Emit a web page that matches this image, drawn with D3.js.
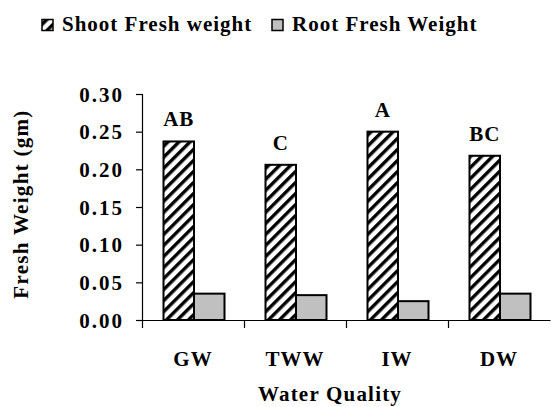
<!DOCTYPE html>
<html>
<head>
<meta charset="utf-8">
<script src="https://cdn.jsdelivr.net/npm/d3@7"></script>
<style>
  body { margin: 0; background: #fff; }
</style>
</head>
<body>
<div id="vis"></div>
<script>

var categories = ['GW', 'TWW', 'IW', 'DW'];
var seriesNames = ['Shoot Fresh weight', 'Root Fresh Weight'];
var shootValues = [0.237, 0.206, 0.250, 0.218];
var rootValues = [0.035, 0.033, 0.025, 0.035];
var letters = ['AB', 'C', 'A', 'BC'];
var yTicks = [0, 0.05, 0.10, 0.15, 0.20, 0.25, 0.30];

var width = 551;
var height = 407;

var plot = { left: 142, right: 550, top: 94, bottom: 320 };
var fontFamily = "'Liberation Serif', 'Times New Roman', serif";

var svg = d3.select('#vis')
    .append('svg')
    .attr('width', width)
    .attr('height', height);

// diagonal hatch for the shoot bars
var defs = svg.append('defs');
var hatch = defs.append('pattern')
    .attr('id', 'hatch')
    .attr('patternUnits', 'userSpaceOnUse')
    .attr('width', 7.8)
    .attr('height', 7.8)
    .attr('patternTransform', 'rotate(45)');
hatch.append('rect')
    .attr('width', 7.8).attr('height', 7.8).attr('fill', '#fff');
hatch.append('rect')
    .attr('x', 0).attr('y', 0)
    .attr('width', 3.4).attr('height', 7.8)
    .attr('fill', '#000');

var x = d3.scaleBand()
    .domain(categories)
    .range([plot.left, plot.right]);

var xInner = d3.scaleBand()
    .domain(['shoot', 'root'])
    .range([21.5, 82.5]);

var y = d3.scaleLinear()
    .domain([0, 0.3])
    .range([plot.bottom, plot.top]);

var rows = categories.map(function (c, i) {
    return { cat: c, shoot: shootValues[i], root: rootValues[i], letter: letters[i] };
});

function styleText(sel, size, spacing) {
    sel.style('font-family', fontFamily)
        .style('font-weight', '700')
        .style('font-size', size + 'px')
        .style('letter-spacing', (spacing || 0) + 'px')
        .attr('fill', '#000');
}

// y axis
var yAxis = svg.append('g')
    .attr('transform', 'translate(' + plot.left + ',0)')
    .call(d3.axisLeft(y)
        .tickValues(yTicks)
        .tickSize(6)
        .tickPadding(12)
        .tickFormat(d3.format('.2f')));
yAxis.select('.domain').attr('stroke', '#000').attr('stroke-width', 1.2);
yAxis.selectAll('.tick line').attr('stroke', '#000').attr('stroke-width', 1.2);
yAxis.selectAll('.tick text')
    .call(styleText, 21, 2)
    .attr('dy', '0.34em');

// bars
var groups = svg.selectAll('.group')
    .data(rows)
    .enter().append('g')
    .attr('class', 'group')
    .attr('transform', function (d) { return 'translate(' + x(d.cat) + ',0)'; });

groups.append('rect')
    .attr('x', xInner('shoot'))
    .attr('y', function (d) { return y(d.shoot); })
    .attr('width', xInner.bandwidth())
    .attr('height', function (d) { return y(0) - y(d.shoot); })
    .attr('fill', 'url(#hatch)')
    .attr('stroke', '#000')
    .attr('stroke-width', 2);

groups.append('rect')
    .attr('x', xInner('root'))
    .attr('y', function (d) { return y(d.root); })
    .attr('width', xInner.bandwidth())
    .attr('height', function (d) { return y(0) - y(d.root); })
    .attr('fill', '#c0c0c0')
    .attr('stroke', '#000')
    .attr('stroke-width', 2);

groups.append('text')
    .attr('x', xInner('shoot') + xInner.bandwidth() / 2)
    .attr('y', function (d) { return y(d.shoot) - 15; })
    .attr('text-anchor', 'middle')
    .call(styleText, 21, 1)
    .text(function (d) { return d.letter; });

// x axis: ticks sit between categories
var xEdges = d3.scaleLinear()
    .domain([0, categories.length])
    .range([plot.left, plot.right]);

var xAxis = svg.append('g')
    .attr('transform', 'translate(0,' + plot.bottom + ')')
    .call(d3.axisBottom(xEdges)
        .tickValues(d3.range(categories.length))
        .tickSize(8)
        .tickSizeOuter(0)
        .tickFormat(''));
xAxis.select('.domain').attr('stroke', '#000').attr('stroke-width', 1.2);
xAxis.selectAll('.tick line').attr('stroke', '#000').attr('stroke-width', 1.2);

var xLabels = svg.append('g')
    .attr('transform', 'translate(0,' + plot.bottom + ')')
    .call(d3.axisBottom(x).tickSize(0).tickPadding(31));
xLabels.select('.domain').remove();
xLabels.selectAll('.tick text')
    .call(styleText, 21, 1);

// axis titles
svg.append('text')
    .attr('x', (plot.left + plot.right) / 2 - 16)
    .attr('y', 401)
    .attr('text-anchor', 'middle')
    .call(styleText, 21, 1.2)
    .text('Water Quality');

svg.append('text')
    .attr('transform', 'translate(28,' + 204 + ') rotate(-90)')
    .attr('text-anchor', 'middle')
    .call(styleText, 21, 1.3)
    .text('Fresh Weight (gm)');

// legend
var legendItems = [
    { name: seriesNames[0], fill: 'url(#hatch)', x: 42 },
    { name: seriesNames[1], fill: '#c0c0c0', x: 272 }
];
var legend = svg.selectAll('.legend')
    .data(legendItems)
    .enter().append('g')
    .attr('class', 'legend')
    .attr('transform', function (d) { return 'translate(' + d.x + ',0)'; });

legend.append('rect')
    .attr('x', 0)
    .attr('y', 19.5)
    .attr('width', 11)
    .attr('height', 11)
    .attr('fill', function (d) { return d.fill; })
    .attr('stroke', '#000')
    .attr('stroke-width', 1.5);

legend.append('text')
    .attr('x', 20)
    .attr('y', 31)
    .call(styleText, 21, 1)
    .text(function (d) { return d.name; });

</script>
</body>
</html>
